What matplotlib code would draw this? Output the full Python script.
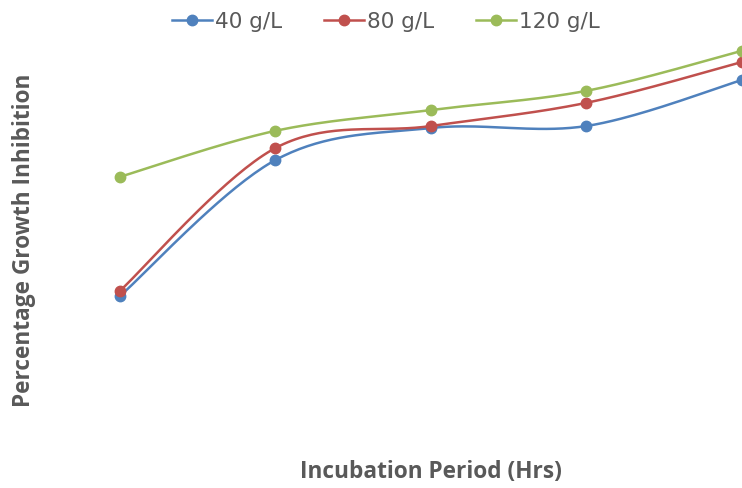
import numpy as np
import matplotlib.pyplot as plt
from matplotlib.lines import Line2D

# incubation period (hrs) and % growth inhibition
hours = [24, 48, 72, 96, 120]
inhib_40 = [36.0, 70.0, 78.0, 78.5, 90.0]
inhib_80 = [37.3, 73.0, 78.5, 84.3, 94.5]
inhib_120 = [65.8, 77.3, 82.5, 87.3, 97.3]
labels = ["40 g/L", "80 g/L", "120 g/L"]
colors = ["#4F81BD", "#C0504D", "#9BBB59"]
grey = "#595959"


def smooth(x, y, n=40):
    # excel style smoothed line (catmull-rom through the points)
    x = np.asarray(x, float)
    y = np.asarray(y, float)
    px = np.concatenate([[x[0]], x, [x[-1]]])
    py = np.concatenate([[y[0]], y, [y[-1]]])
    xs, ys = [], []
    for i in range(1, len(px) - 2):
        p0 = np.array([px[i - 1], py[i - 1]])
        p1 = np.array([px[i], py[i]])
        p2 = np.array([px[i + 1], py[i + 1]])
        p3 = np.array([px[i + 2], py[i + 2]])
        c1 = p1 + (p2 - p0) / 6
        c2 = p2 - (p3 - p1) / 6
        t = np.linspace(0, 1, n)[:, None]
        b = (1 - t) ** 3 * p1 + 3 * (1 - t) ** 2 * t * c1 + 3 * (1 - t) * t ** 2 * c2 + t ** 3 * p2
        xs.append(b[:, 0])
        ys.append(b[:, 1])
    return np.concatenate(xs), np.concatenate(ys)


fig = plt.figure(figsize=(7.42, 4.88), dpi=100)
ax = fig.add_axes([0, 0, 1, 1])
ax.set_xlim(5.48, 120)
ax.set_ylim(-12, 110)
ax.axis("off")

handles = []
for vals, lab, c in zip([inhib_40, inhib_80, inhib_120], labels, colors):
    sx, sy = smooth(hours, vals)
    ax.plot(sx, sy, color=c, lw=1.8)
    ax.plot(hours, vals, "o", color=c, ms=7.5)
    handles.append(Line2D([], [], color=c, lw=1.8, marker="o", ms=7.5, label=lab))

fig.legend(handles=handles, loc="center", bbox_to_anchor=(386 / 742, 1 - 22 / 488),
           ncol=3, frameon=False, fontsize=15.5, handlelength=1.85, handletextpad=0.15,
           columnspacing=1.95, labelcolor=grey)

fig.text(24 / 742, 1 - 240 / 488, "Percentage Growth Inhibition", rotation=90,
         ha="center", va="center", fontsize=16.3, fontweight="bold", color=grey,
         family="Open Sans")
fig.text(431 / 742, 1 - 472 / 488, "Incubation Period (Hrs)", ha="center", va="center",
         fontsize=16.3, fontweight="bold", color=grey, family="Open Sans")

fig.savefig("out.png", dpi=100)
